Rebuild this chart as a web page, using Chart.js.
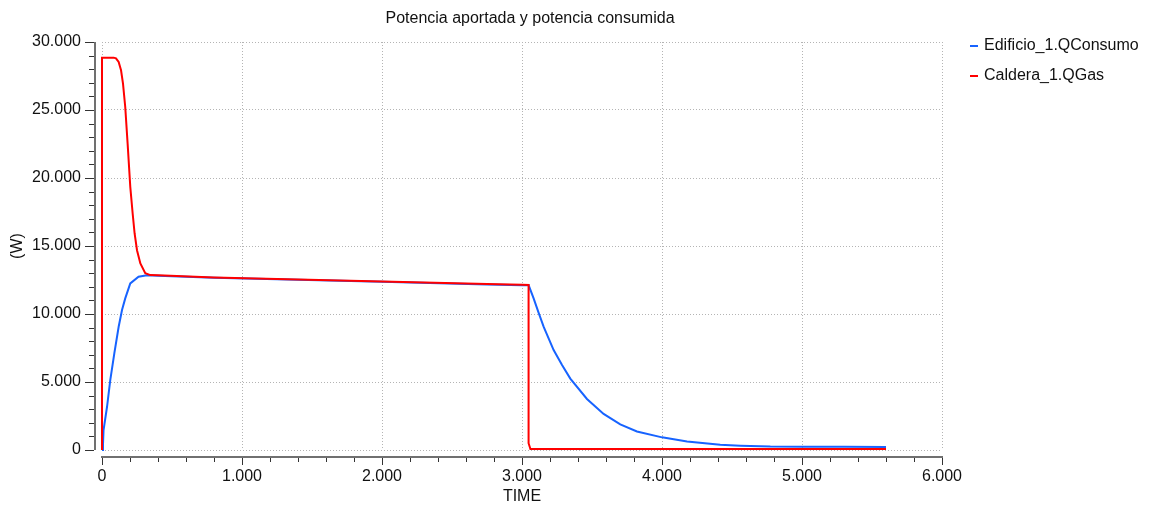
<!DOCTYPE html>
<html>
<head>
<meta charset="utf-8">
<script src="https://cdn.jsdelivr.net/npm/chart.js@4"></script>
<style>
  body { margin: 0; background: #fff; }
  #wrap { width: 1151px; height: 507px; }
</style>
</head>
<body>
<div id="wrap"><canvas id="powerChart" width="1151" height="507"></canvas></div>
<script>
const chartTitle = 'Potencia aportada y potencia consumida';

// Edificio_1.QConsumo (blue)
const consTime = [0, 7, 11, 36, 59, 88, 119, 143, 166, 202, 261, 321, 400, 800, 1400, 2000, 2750, 3000, 3047,
  3083, 3119, 3155, 3226, 3286, 3345, 3464, 3583, 3702, 3821, 4000, 4179, 4416, 4559, 4774, 5000, 5300, 5600];
const consValue = [0, 370, 1470, 3180, 5140, 7100, 9060, 10290, 11150, 12250, 12740, 12850, 12820, 12660, 12510, 12370, 12170, 12120, 12130,
  11150, 10080, 9050, 7350, 6250, 5250, 3750, 2650, 1880, 1360, 930, 620, 380, 320, 250, 240, 230, 220];

// Caldera_1.QGas (red)
const gasTime = [0, 0, 83, 100, 119, 136, 150, 166, 183, 202, 219, 233, 250, 274, 309, 345, 400, 800, 1400, 2000,
  2750, 3000, 3047, 3047, 3060, 5600];
const gasValue = [0, 28850, 28850, 28800, 28530, 27920, 26940, 25220, 22530, 19350, 17390, 15920, 14690, 13720, 13000, 12860, 12850, 12690, 12540, 12390,
  12200, 12150, 12140, 500, 70, 70];

const seriesLabels = ['Edificio_1.QConsumo', 'Caldera_1.QGas'];
const seriesColors = ['#1763ff', '#ff0000'];

const X_MAX = 6000, X_STEP = 1000, X_MINOR = 200;
const Y_MAX = 30000, Y_STEP = 5000, Y_MINOR = 1000;

function fmt(v) {
  return String(v).replace(/\B(?=(\d{3})+(?!\d))/g, '.');
}
function toPoints(xs, ys) {
  return xs.map((t, i) => ({ x: t, y: ys[i] }));
}

Chart.defaults.font.family = "'Liberation Sans', Arial, sans-serif";
Chart.defaults.font.size = 16;
Chart.defaults.color = '#111';

// axes drawn a few px away from the plot, like the original tool; plus title and legend
const offsetAxes = {
  id: 'offsetAxes',
  afterDraw(chart) {
    const { ctx, chartArea: a, scales: { x, y } } = chart;
    const ax = a.left - 7, ay = a.bottom + 7;
    ctx.save();
    ctx.strokeStyle = '#707070';
    ctx.lineWidth = 2;
    ctx.beginPath();
    ctx.moveTo(ax, a.top); ctx.lineTo(ax, a.bottom);
    ctx.moveTo(a.left - 1, ay); ctx.lineTo(a.right + 1, ay);
    ctx.stroke();

    ctx.strokeStyle = '#333';
    ctx.lineWidth = 1;
    ctx.beginPath();
    for (let v = 0; v <= Y_MAX; v += Y_MINOR) {
      const py = Math.round(y.getPixelForValue(v)) + 0.5;
      const len = v % Y_STEP === 0 ? 9 : 5;
      ctx.moveTo(ax - 1, py); ctx.lineTo(ax - 1 - len, py);
    }
    for (let v = 0; v <= X_MAX; v += X_MINOR) {
      const px = Math.round(x.getPixelForValue(v)) + 0.5;
      const len = v % X_STEP === 0 ? 7 : 4;
      ctx.moveTo(px, ay + 1); ctx.lineTo(px, ay + 1 + len);
    }
    ctx.stroke();

    ctx.font = "16px 'Liberation Sans', Arial, sans-serif";
    ctx.textBaseline = 'middle';
    ctx.fillStyle = '#111';
    ctx.textAlign = 'center';
    ctx.fillText(chartTitle, (a.left + a.right) / 2 + 8, 19);

    // legend
    ctx.textAlign = 'left';
    chart.data.datasets.forEach((ds, i) => {
      const ly = 46 + i * 30;
      ctx.fillStyle = ds.borderColor;
      ctx.fillRect(970, ly - 1, 8, 2);
      ctx.fillStyle = '#111';
      ctx.fillText(ds.label, 984, ly);
    });
    ctx.restore();
  }
};

const ctx = document.getElementById('powerChart').getContext('2d');
new Chart(ctx, {
  type: 'line',
  data: {
    datasets: [
      {
        label: seriesLabels[0],
        data: toPoints(consTime, consValue),
        borderColor: seriesColors[0],
        borderWidth: 2,
        pointRadius: 0,
        tension: 0,
        clip: false,
        order: 1
      },
      {
        label: seriesLabels[1],
        data: toPoints(gasTime, gasValue),
        borderColor: seriesColors[1],
        borderWidth: 2,
        pointRadius: 0,
        tension: 0,
        clip: false,
        order: 0
      }
    ]
  },
  options: {
    responsive: false,
    animation: false,
    layout: { padding: { left: 0, right: 209, top: 42, bottom: 0 } },
    plugins: {
      legend: { display: false },
      tooltip: { enabled: false },
      title: { display: false }
    },
    scales: {
      x: {
        type: 'linear',
        min: 0,
        max: X_MAX,
        afterFit(scale) { scale.height = 57; },
        ticks: { stepSize: X_STEP, padding: 17, maxRotation: 0, callback: v => fmt(v) },
        grid: { color: '#b4b4b4', drawTicks: false },
        border: { display: false, dash: [1, 2] },
        title: { display: true, text: 'TIME', padding: { top: 0, bottom: 1 } }
      },
      y: {
        min: 0,
        max: Y_MAX,
        afterFit(scale) { scale.width = 102; },
        ticks: { stepSize: Y_STEP, padding: 21, callback: v => fmt(v) },
        grid: { color: '#b4b4b4', drawTicks: false },
        border: { display: false, dash: [1, 2] },
        title: { display: true, text: '(W)', padding: { top: 8, bottom: 0 } }
      }
    }
  },
  plugins: [offsetAxes]
});
</script>
</body>
</html>
